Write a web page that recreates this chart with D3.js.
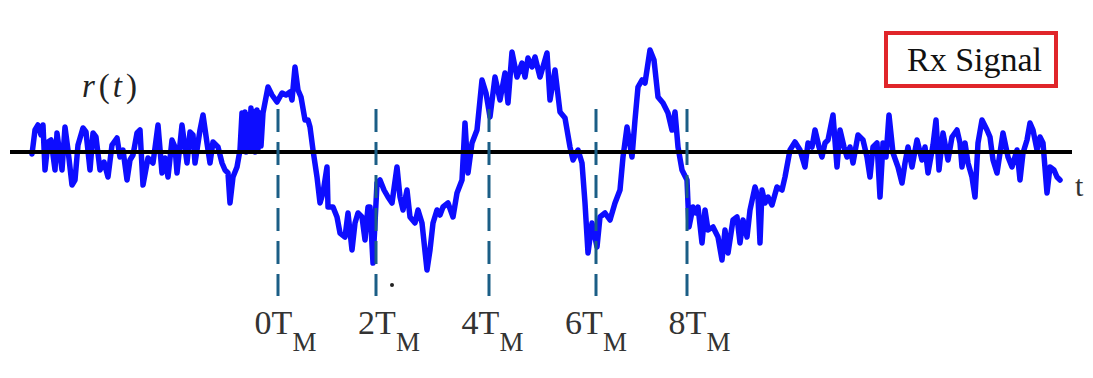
<!DOCTYPE html>
<html>
<head>
<meta charset="utf-8">
<script src="https://cdn.jsdelivr.net/npm/d3@7/dist/d3.min.js"></script>
<style>
  body { margin: 0; background: #fff; }
  svg { display: block; }
</style>
</head>
<body>
<svg width="1093" height="378"></svg>
<script>
// received signal, [sample, amplitude]
var signal = [
  [0,-2],[3,22],[6,27],[9,17],[11,27],[13,-18],[16,10],[19,12],[23,-18],[25,19],
  [30,-18],[33,25],[36,2],[40,-33],[43,-28],[46,7],[51,24],[54,20],[58,-18],[61,19],
  [64,15],[68,-18],[72,-10],[76,-25],[80,7],[85,14],[88,-5],[91,2],[95,-28],[98,-8],
  [101,-3],[105,19],[108,22],[111,-33],[116,-6],[121,-11],[126,27],[130,-21],[133,-6],[136,-25],
  [140,12],[143,5],[145,-21],[150,27],[155,-11],[158,20],[161,17],[163,-11],[168,22],[171,37],
  [175,9],[178,-11],[181,10],[186,5],[190,-11],[193,-18],[196,-21],[198,-51],[201,-25],[205,-15],
  [208,2],[210,39],[211,4],[213,40],[214,0],[216,37],[217,2],[219,44],[220,4],[222,40],
  [223,0],[225,42],[226,3],[228,39],[229,6],[231,39],[236,65],[240,57],[245,50],[250,59],
  [254,57],[258,60],[260,52],[263,85],[266,62],[269,55],[273,32],[276,32],[278,25],[281,2],
  [285,-25],[288,-51],[291,-41],[295,-15],[296,-55],[301,-55],[305,-65],[308,-81],[313,-85],[316,-61],
  [320,-98],[323,-71],[326,-61],[330,-65],[333,-88],[336,-55],[338,-55],[341,-111],[345,-31],[348,-28],
  [352,-38],[356,-45],[360,-51],[365,-15],[368,-45],[371,-58],[375,-38],[378,-65],[383,-71],[386,-58],
  [390,-71],[395,-118],[398,-98],[401,-71],[405,-58],[408,-63],[411,-55],[416,-51],[421,-65],[425,-41],
  [430,-28],[433,29],[436,-21],[440,9],[445,22],[450,72],[454,59],[458,35],[463,75],[468,52],
  [473,79],[476,49],[480,100],[485,75],[490,89],[493,75],[496,94],[500,85],[503,95],[508,75],
  [515,99],[518,52],[523,82],[528,40],[533,34],[538,5],[541,-8],[546,2],[550,-11],[553,-51],
  [556,-101],[560,-71],[565,-95],[568,-65],[573,-61],[578,-68],[583,-51],[588,-38],[591,-5],[595,25],
  [600,-5],[603,32],[606,65],[610,72],[613,69],[618,102],[622,92],[626,55],[631,49],[636,39],
  [640,22],[643,40],[646,5],[650,-18],[655,-28],[657,-75],[661,-55],[664,-61],[666,-55],[670,-91],
  [673,-58],[676,-78],[681,-75],[686,-85],[690,-108],[693,-78],[696,-101],[701,-68],[705,-65],[708,-91],
  [711,-68],[715,-85],[718,-58],[723,-35],[726,-45],[728,-91],[730,-38],[733,-51],[736,-45],[740,-53],
  [745,-35],[750,-38],[753,-25],[758,2],[763,10],[768,2],[773,-15],[776,9],[780,5],[783,22],
  [787,5],[790,-5],[793,9],[796,12],[801,37],[805,-15],[808,22],[812,5],[815,-5],[818,5],
  [821,-11],[826,17],[831,12],[835,-5],[838,-25],[841,5],[845,9],[848,-45],[851,9],[854,-5],
  [857,37],[861,-1],[866,-15],[870,-31],[873,-11],[876,5],[880,-15],[885,12],[890,-8],[893,5],
  [896,-21],[901,7],[904,32],[907,-18],[911,19],[916,-8],[920,15],[925,22],[928,9],[930,-15],
  [933,9],[936,-11],[940,-25],[943,-45],[946,9],[950,32],[955,22],[958,15],[961,-8],[965,-21],
  [968,-1],[971,19],[976,-5],[980,-15],[985,2],[988,-28],[991,-1],[995,12],[998,29],[1001,22],
  [1005,2],[1008,15],[1011,9],[1015,-41],[1018,-15],[1022,-18],[1025,-25],[1028,-28]
];

// dashed marker positions (samples)
var markers = [246, 344, 457, 564, 655];

// tick labels, evenly spaced
var tickMultiples = [0, 2, 4, 6, 8];
var t0Sample = 253.5, samplesPerTM = 51.75;

var legendText = "Rx Signal";

var svg = d3.select("svg");

var x = d3.scaleLinear().domain([0, 1028]).range([32, 1060]),
  y = d3.scaleLinear().domain([-130, 110]).range([282, 42]);

var line = d3.line()
  .x(function(d) { return x(d[0]); })
  .y(function(d) { return y(d[1]); });

svg.append("path")
  .datum(signal)
  .attr("fill", "none")
  .attr("stroke", "#0d0dff")
  .attr("stroke-width", 5.5)
  .attr("stroke-linejoin", "round")
  .attr("stroke-linecap", "round")
  .attr("d", line);

// time axis
svg.append("line")
  .attr("x1", 10).attr("x2", 1072)
  .attr("y1", y(0)).attr("y2", y(0))
  .attr("stroke", "#000")
  .attr("stroke-width", 4);

svg.append("text")
  .attr("x", 1075)
  .attr("y", 196)
  .attr("font-family", "Liberation Serif")
  .attr("font-size", 30)
  .attr("fill", "#333")
  .text("t");

// markers
svg.selectAll(".marker")
  .data(markers)
  .enter().append("line")
  .attr("class", "marker")
  .attr("x1", function(d) { return x(d); })
  .attr("x2", function(d) { return x(d); })
  .attr("y1", 109)
  .attr("y2", 296)
  .attr("stroke", "#1b5e86")
  .attr("stroke-width", 3)
  .attr("stroke-dasharray", "23,10");

var labels = svg.selectAll(".tick-label")
  .data(tickMultiples)
  .enter().append("text")
  .attr("class", "tick-label")
  .attr("x", function(d) { return x(t0Sample + d * samplesPerTM); })
  .attr("y", 334)
  .attr("text-anchor", "middle")
  .attr("font-family", "Liberation Serif")
  .attr("fill", "#333");
labels.append("tspan")
  .attr("font-size", 34)
  .text(function(d) { return d + "T"; });
labels.append("tspan")
  .attr("font-size", 27)
  .attr("dy", 17)
  .text("M");

// stray dot under 2T
svg.append("circle")
  .attr("cx", x(360)).attr("cy", 285)
  .attr("r", 2)
  .attr("fill", "#222");

// r(t)
var rt = svg.append("text")
  .attr("x", 82)
  .attr("y", 97)
  .attr("font-family", "Liberation Serif")
  .attr("font-size", 33)
  .attr("fill", "#222");
rt.append("tspan").attr("font-style", "italic").text("r");
rt.append("tspan").attr("dx", 4).text("(");
rt.append("tspan").attr("font-style", "italic").attr("dx", 3).text("t");
rt.append("tspan").attr("dx", 4).text(")");

// legend
svg.append("rect")
  .attr("x", 886).attr("y", 33)
  .attr("width", 170).attr("height", 53)
  .attr("fill", "#fff")
  .attr("stroke", "#e0252a")
  .attr("stroke-width", 4);

svg.append("text")
  .attr("x", 907)
  .attr("y", 71)
  .attr("font-family", "Liberation Serif")
  .attr("font-size", 34)
  .attr("fill", "#111")
  .text(legendText);
</script>
</body>
</html>
